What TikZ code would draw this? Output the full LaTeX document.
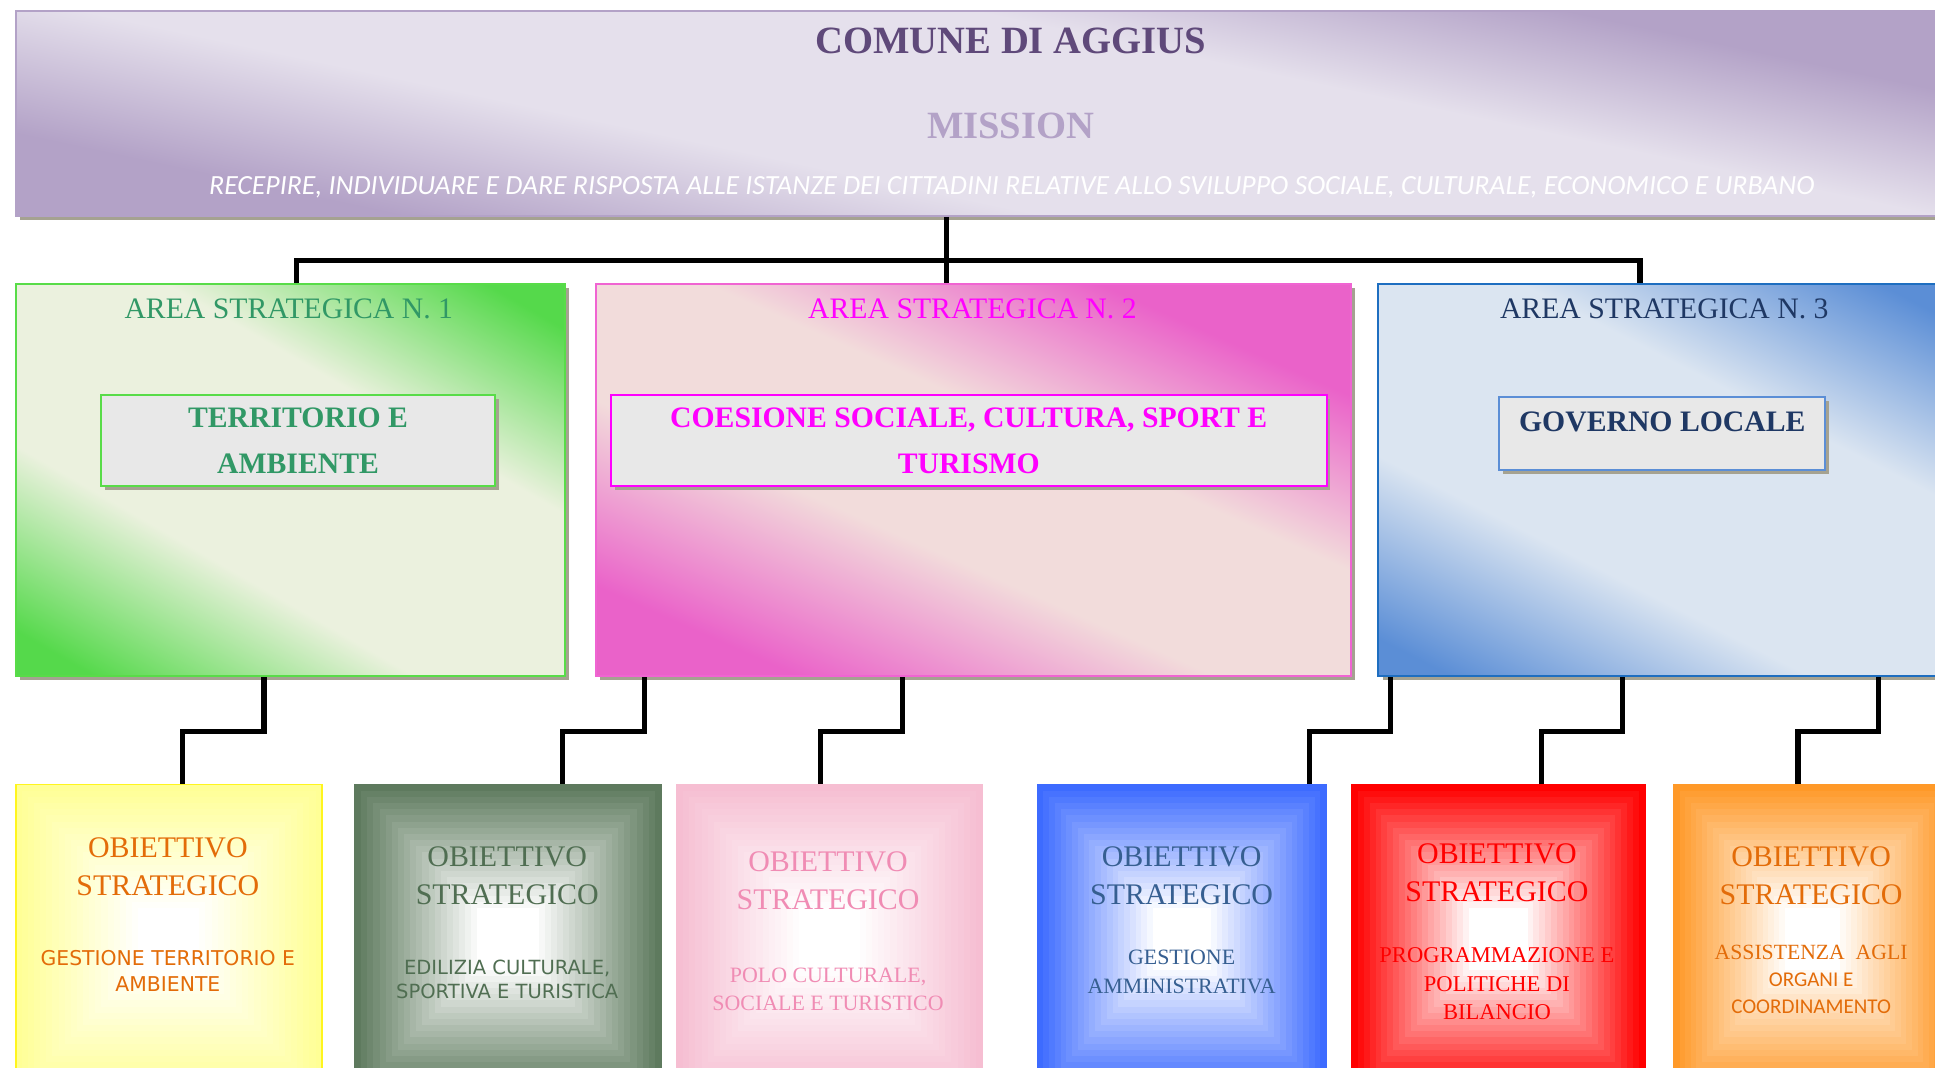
\documentclass[tikz,border=0pt]{standalone}
\usepackage{fontspec}
\setmainfont{Liberation Serif}
\usetikzlibrary{calc,shadows}
\newfontfamily\carlito{Carlito}
\newfontfamily\dejavu{DejaVu Sans}

\definecolor{lilla}{RGB}{179,162,199}
\definecolor{lillachiaro}{RGB}{229,224,236}
\definecolor{lillatesto}{RGB}{95,73,122}
\definecolor{verde}{RGB}{85,217,75}
\definecolor{verdechiaro}{RGB}{235,241,222}
\definecolor{verdebordo}{RGB}{88,220,72}
\definecolor{verdetesto}{RGB}{49,152,102}
\definecolor{rosa}{RGB}{234,98,201}
\definecolor{rosachiaro}{RGB}{242,220,219}
\definecolor{rosabordo}{RGB}{240,100,210}
\definecolor{fucsia}{RGB}{255,0,255}
\definecolor{blu}{RGB}{91,142,214}
\definecolor{bluchiaro}{RGB}{219,229,241}
\definecolor{blubordo}{RGB}{30,110,192}
\definecolor{blunotte}{RGB}{31,56,100}
\definecolor{grigio}{RGB}{232,232,232}
\definecolor{ombra}{RGB}{165,162,145}
\definecolor{giallo}{RGB}{255,255,150}
\definecolor{giallobordo}{RGB}{255,245,30}
\definecolor{arancione}{RGB}{227,108,9}
\definecolor{salvia}{RGB}{94,122,94}
\definecolor{salviatesto}{RGB}{80,110,82}
\definecolor{rosino}{RGB}{246,190,210}
\definecolor{rosinotesto}{RGB}{240,140,180}
\definecolor{azzurro}{RGB}{61,107,255}
\definecolor{azzurrotesto}{RGB}{54,95,145}
\definecolor{rosso}{RGB}{255,0,0}
\definecolor{arancio}{RGB}{255,153,40}

\colorlet{fondo}{verde}
\colorlet{luce}{verdechiaro}
\pgfdeclarehorizontalshading[fondo,luce]{banda}{100bp}{color(0bp)=(fondo); color(20bp)=(fondo); color(38bp)=(luce); color(62bp)=(luce); color(80bp)=(fondo); color(100bp)=(fondo)}
\pgfdeclarehorizontalshading[fondo,luce]{bandastretta}{100bp}{color(0bp)=(fondo); color(25bp)=(fondo); color(42bp)=(luce); color(57bp)=(luce); color(73bp)=(fondo); color(100bp)=(fondo)}
\pgfdeclarehorizontalshading[fondo,luce]{bandalarga}{100bp}{color(0bp)=(fondo); color(28bp)=(fondo); color(41bp)=(luce); color(59bp)=(luce); color(71bp)=(fondo); color(100bp)=(fondo)}

\tikzstyle{areabox}=[anchor=north west, inner sep=0pt, shade, line width=1pt, general shadow={fill=ombra, shadow xshift=0.7mm, shadow yshift=-0.7mm}]
\tikzstyle{ambito}=[draw, fill=grigio, line width=1pt, align=center, inner sep=0pt, font=\bfseries\fontsize{13.7}{21}\selectfont, general shadow={fill=ombra, shadow xshift=0.6mm, shadow yshift=-0.6mm}]
\tikzstyle{titolo}=[font=\fontsize{13.7}{16}\selectfont]
\tikzstyle{objbox}=[anchor=north west, inner sep=0pt, draw, line width=0.8pt, minimum height=50mm]
\tikzstyle{obiettivo}=[align=center, font=\fontsize{13.8}{17.6}\selectfont]
\tikzstyle{link}=[draw, line width=2.4pt]
\tikzset{rettangolo/.style={path picture={
    \foreach \i in {0,...,24}{
        \pgfmathsetmacro{\f}{0.02*\i}
        \pgfmathsetmacro{\p}{max(0,100-5*\i)}
        \fill[#1!\p!white] ($(path picture bounding box.south west)!\f!(path picture bounding box.north east)$) rectangle ($(path picture bounding box.north east)!\f!(path picture bounding box.south west)$);
    }}}}

\begin{document}
\begin{tikzpicture}[x=0.2mm, y=-0.2mm]

    \useasboundingbox (0,0) rectangle (1568,865.4);
    \clip (0,0) rectangle (1568,865.4);

    \foreach \x/\y/\w/\h/\name/\scuro/\chiaro/\bordo/\sh/\ang in
        {12/8/1612/166/comune/lilla/lillachiaro/lilla/bandalarga/78,
         12/229/445/318/area1/verde/verdechiaro/verdebordo/banda/60,
         482/229/612/318/area2/rosa/rosachiaro/rosabordo/bandastretta/66,
         1116/229/465/318/area3/blu/bluchiaro/blubordo/banda/63}
    {
        \colorlet{fondo}{\scuro}\colorlet{luce}{\chiaro}
        \node[areabox, shading=\sh, shading angle=\ang, draw=\bordo, minimum width=\w*0.2mm, minimum height=\h*0.2mm] (\name) at (\x,\y) {};
    }

    \node[font=\bfseries\fontsize{17.8}{20}\selectfont, text=lillatesto] (nome) at (819,33) {COMUNE DI AGGIUS};
    \node[font=\bfseries\fontsize{17.8}{20}\selectfont, text=lilla] (mission) at (819,102) {MISSION};
    \node[font=\carlito\itshape\fontsize{12.8}{15}\selectfont, text=white] (testo) at (820,152) {RECEPIRE, INDIVIDUARE E DARE RISPOSTA ALLE ISTANZE DEI CITTADINI RELATIVE ALLO SVILUPPO SOCIALE, CULTURALE, ECONOMICO E URBANO};

    \foreach \x/\name/\col/\num in {234/tit1/verdetesto/1, 788/tit2/fucsia/2, 1348.6/tit3/blunotte/3}
        \node[titolo, text=\col] (\name) at (\x,250.5) {AREA STRATEGICA N. \num};

    \node[ambito, draw=verdebordo, text=verdetesto, minimum width=319*0.2mm, minimum height=74*0.2mm] (amb1) at (241.5,357) {TERRITORIO E\\AMBIENTE};
    \node[ambito, draw=fucsia, text=fucsia, minimum width=580*0.2mm, minimum height=74*0.2mm] (amb2) at (785,357) {COESIONE SOCIALE, CULTURA, SPORT E\\TURISMO};
    \node[ambito, draw=blu, text=blunotte, minimum width=264*0.2mm, minimum height=59*0.2mm, text depth=3.8mm] (amb3) at (1347,351.5) {GOVERNO LOCALE};

    \foreach \x/\w/\name/\col/\bordo in
        {12/248/obj1/giallo/giallobordo, 287/248/obj2/salvia/salvia, 548/247/obj3/rosino/rosino,
         840/234/obj4/azzurro/azzurro, 1095/237/obj5/rosso/rosso, 1356/224/obj6/arancio/arancio}
        \node[objbox, draw=\bordo, rettangolo=\col, minimum width=\w*0.2mm] (\name) at (\x,635) {};

    \foreach \x/\y/\name/\col in {136/702.2/ob1/arancione, 411/709.5/ob2/salviatesto, 671/713.8/ob3/rosinotesto,
                                  957.5/709.5/ob4/azzurrotesto, 1213/707/ob5/rosso, 1467.6/709.5/ob6/arancione}
        \node[obiettivo, text=\col] (\name) at (\x,\y) {OBIETTIVO\\STRATEGICO};

    \node[align=center, text=arancione, font=\dejavu\fontsize{9.4}{11.9}\selectfont] (des1) at (136,787) {GESTIONE TERRITORIO E\\AMBIENTE};
    \node[align=center, text=salviatesto, font=\dejavu\fontsize{9}{11.2}\selectfont] (des2) at (411,793.8) {EDILIZIA CULTURALE,\\SPORTIVA E TURISTICA};
    \node[align=center, text=rosinotesto, font=\fontsize{10.1}{13}\selectfont] (des3) at (671,801.5) {POLO CULTURALE,\\SOCIALE E TURISTICO};
    \node[align=center, text=azzurrotesto, font=\fontsize{10.1}{13.4}\selectfont] (des4) at (957.5,787.8) {GESTIONE\\AMMINISTRATIVA};
    \node[align=center, text=rosso, font=\fontsize{10.4}{13.2}\selectfont] (des5) at (1213,797.2) {PROGRAMMAZIONE E\\POLITICHE DI\\BILANCIO};
    \node[align=center, text=arancione, font=\fontsize{10}{12.6}\selectfont] (des6) at (1467.6,793.7) {ASSISTENZA~~AGLI\\{\carlito\fontsize{9.7}{12.6}\selectfont ORGANI E}\\{\carlito\fontsize{9.7}{12.6}\selectfont COORDINAMENTO}};

    \coordinate (tronco) at (767,211);
    \coordinate (busL) at (240,211);
    \coordinate (busR) at (1329,211);
    \draw[link] (comune.south -| tronco) -- (area2.north -| tronco);
    \draw[link] (area1.north -| busL) |- (busR) -- (area3.north -| busR);

    \foreach \src/\dst/\xa/\xb in {area1/obj1/214/148, area2/obj2/522/456, area2/obj3/731/665,
                                   area3/obj4/1127/1061, area3/obj5/1315/1249, area3/obj6/1522/1457}
    {
        \coordinate (a) at (\xa,0);
        \coordinate (b) at (\xb,0);
        \draw[link] (\src.south -| a) -- ++(0,44) -| (\dst.north -| b);
    }

\end{tikzpicture}
\end{document}
